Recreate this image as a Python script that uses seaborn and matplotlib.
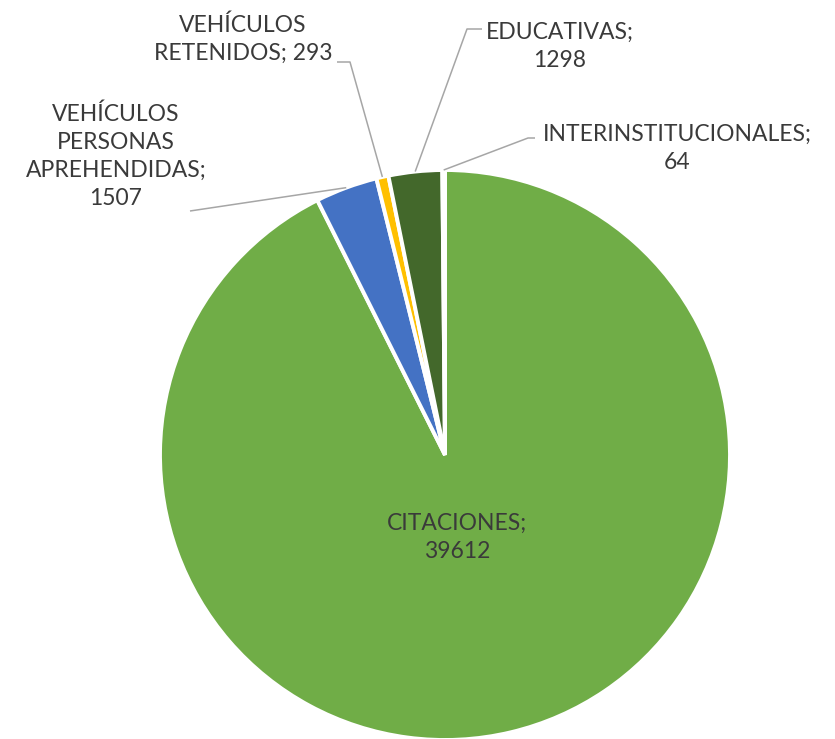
import numpy as np
import matplotlib
matplotlib.use('Agg')
import matplotlib.pyplot as plt
import seaborn as sns

sns.set_style('white')
plt.rcParams['font.family'] = ['Lato', 'DejaVu Sans']

# data
categorias = ['CITACIONES', 'VEHÍCULOS PERSONAS APREHENDIDAS', 'VEHÍCULOS RETENIDOS',
              'EDUCATIVAS', 'INTERINSTITUCIONALES']
valores = [39612, 1507, 293, 1298, 64]
etiquetas = ['CITACIONES;\n39612', 'VEHÍCULOS\nPERSONAS\nAPREHENDIDAS;\n1507',
             'VEHÍCULOS\nRETENIDOS; 293', 'EDUCATIVAS;\n1298', 'INTERINSTITUCIONALES;\n64']
colores = ['#70AD47', '#4472C4', '#FFC000', '#43682B', '#FFFFFF']

# layout (pixels from top-left of the 835x739 picture)
W, H = 835, 739
CX, CY, R = 445, 455, 285


def px(x, y):
    return ((x - CX) / R, (CY - y) / R)


# text centre, leader start, leader elbow (None = straight)
texto_pos = [(457, 537), (116, 156), (243, 39), (560, 46), (677, 148)]
linea_ini = [None, (190, 211), (337, 62), (482, 29), (535, 138)]
linea_codo = [None, None, (350, 62), (467, 29), (528, 138)]

fig = plt.figure(figsize=(W / 100, H / 100), dpi=100)
ax = fig.add_axes([0, 0, 1, 1])
wedges, _ = ax.pie(valores, colors=colores, startangle=90, counterclock=False,
                   radius=1, center=(0, 0),
                   wedgeprops=dict(edgecolor='white', linewidth=2.8))
ax.set_xlim(px(0, 0)[0], px(W, 0)[0])
ax.set_ylim(px(0, H)[1], px(0, 0)[1])
ax.set_aspect('equal', adjustable='box')
ax.axis('off')

for i, w in enumerate(wedges):
    tx, ty = px(*texto_pos[i])
    ax.text(tx, ty, etiquetas[i], ha='center', va='center', fontsize=16.5,
            color='#3A3A3A', linespacing=1.42)
    if linea_ini[i] is None:
        continue
    ang = np.deg2rad((w.theta1 + w.theta2) / 2)
    borde = (np.cos(ang), np.sin(ang))
    pts = [px(*linea_ini[i])]
    if linea_codo[i] is not None:
        pts.append(px(*linea_codo[i]))
    pts.append(borde)
    xs, ys = zip(*pts)
    ax.plot(xs, ys, color='#A6A6A6', lw=1.1, solid_capstyle='butt')

fig.savefig('out.png', dpi=100, facecolor='white')
